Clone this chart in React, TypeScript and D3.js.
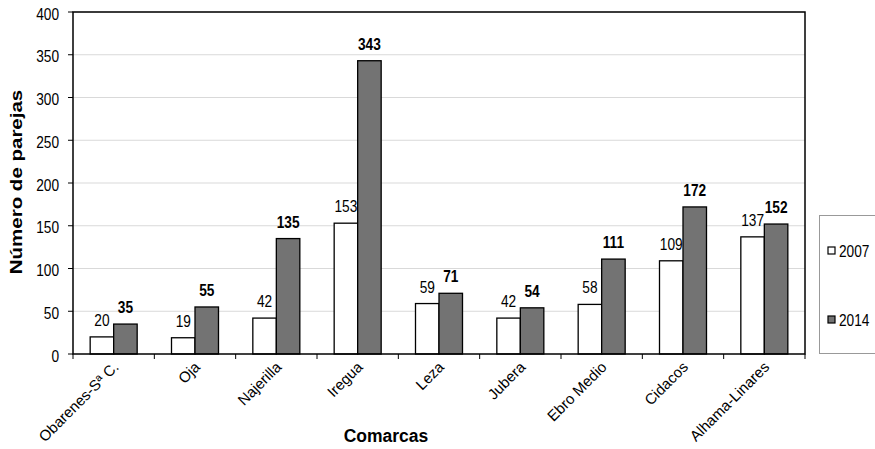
import React from "react";
import * as d3 from "d3";

const categories = ["Obarenes-Sª C.", "Oja", "Najerilla", "Iregua", "Leza", "Jubera", "Ebro Medio", "Cidacos", "Alhama-Linares"];
const series2007 = [20, 19, 42, 153, 59, 42, 58, 109, 137];
const series2014 = [35, 55, 135, 343, 71, 54, 111, 172, 152];
const yTicks = [0, 50, 100, 150, 200, 250, 300, 350, 400];
const seriesNames = ["2007", "2014"];

const W = 875, H = 449;
const L = 73, R = 805, T = 12, B = 354;
const font = "'Liberation Sans', Arial, sans-serif";
const SX = 0.83;

function T2(props: { x: number; y: number; anchor?: string; size: number; bold?: boolean; children: any }) {
  return (
    <text
      transform={`translate(${props.x},${props.y}) scale(${SX},1)`}
      textAnchor={props.anchor || "start"}
      fontSize={props.size}
      fontWeight={props.bold ? "bold" : "normal"}
      fill="#000"
    >
      {props.children}
    </text>
  );
}

export default function App() {
  const x = d3.scaleBand<string>().domain(categories).range([L, R]).paddingInner(0).paddingOuter(0);
  const y = d3.scaleLinear().domain([0, 400]).range([B, T]);
  const bw = 23.5;
  const bounds = d3.range(categories.length + 1).map((i) => L + i * x.bandwidth());
  return (
    <svg width={W} height={H} style={{ position: "absolute", left: 0, top: 0, background: "#fff" }} fontFamily={font}>
      <rect x={0} y={0} width={W} height={H} fill="#fff" />
      {yTicks.slice(1).map((t) => (
        <line key={t} x1={L} x2={R} y1={y(t)} y2={y(t)} stroke="#d9d9d9" strokeWidth={1} />
      ))}
      {categories.map((c, i) => {
        const cx = x(c)! + x.bandwidth() / 2;
        return (
          <g key={c}>
            <rect x={cx - bw} y={y(series2007[i])} width={bw} height={B - y(series2007[i])} fill="#fff" stroke="#000" strokeWidth={1.3} />
            <rect x={cx} y={y(series2014[i])} width={bw} height={B - y(series2014[i])} fill="#737373" stroke="#000" strokeWidth={1.3} />
            <T2 x={cx - bw / 2} y={y(series2007[i]) - 11} anchor="middle" size={16.5}>{series2007[i]}</T2>
            <T2 x={cx + bw / 2} y={y(series2014[i]) - 11} anchor="middle" size={16.5} bold>{series2014[i]}</T2>
            <text transform={`translate(${cx + 6},${B + 14}) rotate(-45)`} textAnchor="end" fontSize={15} fill="#000">{c}</text>
          </g>
        );
      })}
      <rect x={L} y={T} width={R - L} height={B - T} fill="none" stroke="#000" strokeWidth={1.5} />
      {yTicks.map((t) => (
        <g key={t}>
          <line x1={L - 5} x2={L} y1={y(t)} y2={y(t)} stroke="#000" strokeWidth={1} />
          <T2 x={L - 14} y={y(t) + 7.5} anchor="end" size={16.5}>{t}</T2>
        </g>
      ))}
      {bounds.map((b, i) => (
        <line key={i} x1={b} x2={b} y1={B} y2={B + 5} stroke="#000" strokeWidth={1} />
      ))}
      <text transform={`translate(22,182) scale(${SX},1) rotate(-90)`} textAnchor="middle" fontSize={20.5} fontWeight="bold" fill="#000">Número de parejas</text>
      <text x={386} y={442} textAnchor="middle" fontSize={17.5} fontWeight="bold" fill="#000">Comarcas</text>
      <rect x={819.5} y={215.5} width={70} height={138} fill="#fff" stroke="#999" strokeWidth={1} />
      {seriesNames.map((s, i) => (
        <g key={s}>
          <rect x={828} y={247 + i * 69} width={7} height={7} fill={i === 0 ? "#fff" : "#737373"} stroke="#000" strokeWidth={1.2} />
          <T2 x={839} y={257 + i * 69} size={16.5}>{s}</T2>
        </g>
      ))}
    </svg>
  );
}
